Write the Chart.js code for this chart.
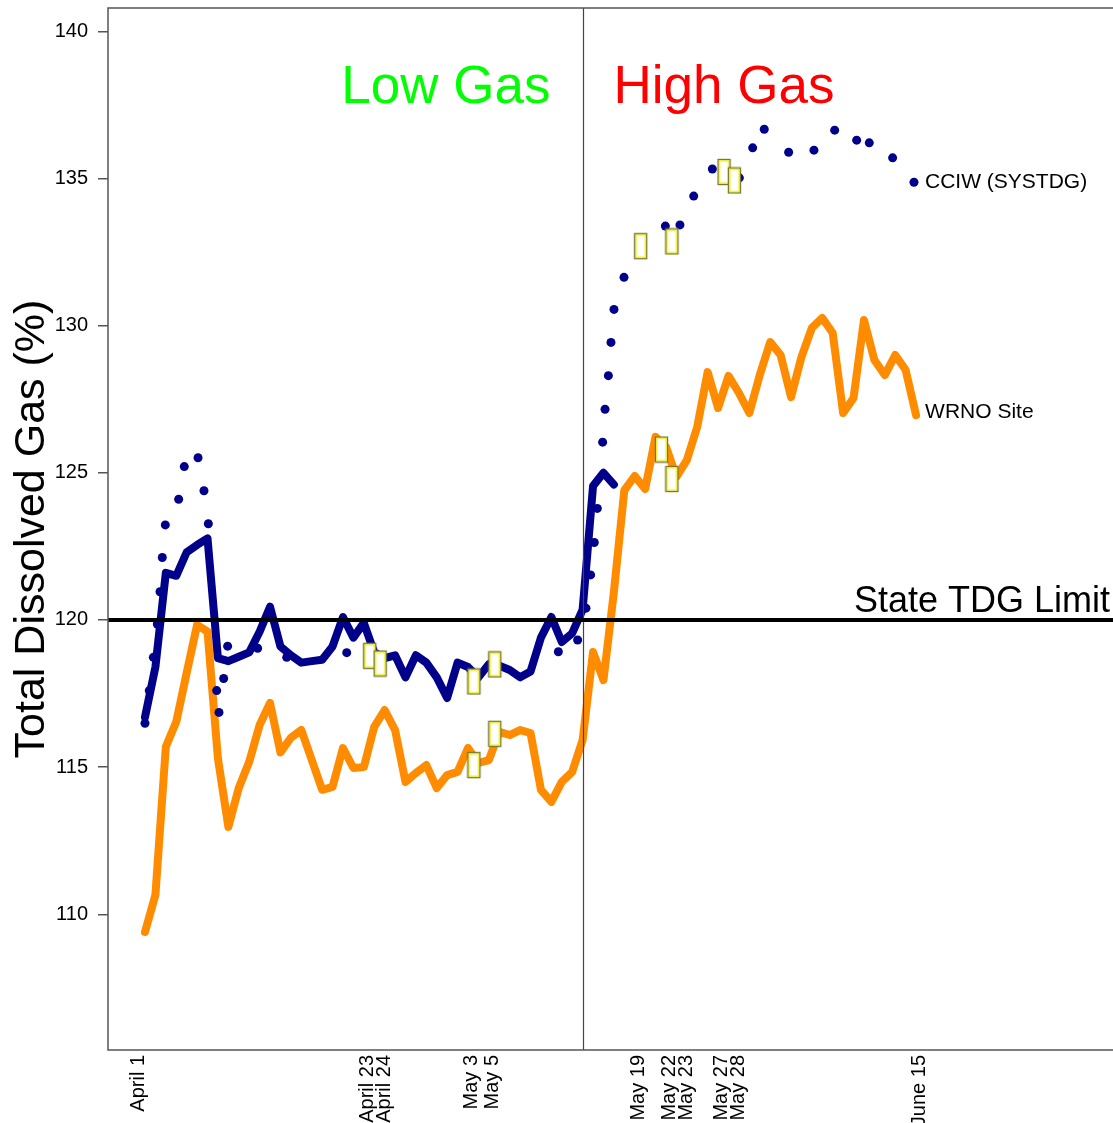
<!DOCTYPE html>
<html>
<head>
<meta charset="utf-8">
<title>Total Dissolved Gas</title>
<script src="https://cdn.jsdelivr.net/npm/chart.js@4/dist/chart.umd.min.js"></script>
<style>
  html, body { margin: 0; padding: 0; background: #ffffff; }
  canvas { display: block; }
</style>
</head>
<body>
<canvas id="tdg" width="1113" height="1123"></canvas>
<script>
// x values are days since April 1
const tickDays   = [0, 22, 23, 32, 34, 48, 51, 52, 56, 57, 75];
const tickLabels = ["April 1", "April 23", "April 24", "May 3", "May 5",
                    "May 19", "May 22", "May 23", "May 27", "May 28", "June 15"];
const yTickValues = [110, 115, 120, 125, 130, 135, 140];

// WRNO site, daily TDG (%), April 1 - June 14
const wrnoValues = [
  109.40, 110.66, 115.69, 116.54, 118.20, 119.83, 119.60, 115.30, 112.97, 114.29,
  115.18, 116.43, 117.18, 115.50, 116.00, 116.26, 115.25, 114.23, 114.33, 115.65,
  114.97, 115.00, 116.37, 116.94, 116.26, 114.50, 114.80, 115.07, 114.29, 114.73,
  114.84, 115.65, 115.14, 115.24, 116.20, 116.09, 116.26, 116.16, 114.23, 113.82,
  114.50, 114.84, 115.92, 118.91, 117.96, 120.95, 124.40, 124.89, 124.45, 126.22,
  125.88, 124.86, 125.43, 126.56, 128.42, 127.20, 128.29, 127.71, 127.03, 128.32,
  129.44, 129.00, 127.57, 128.93, 129.92, 130.26, 129.75, 127.03, 127.54, 130.19,
  128.83, 128.32, 129.00, 128.49, 126.96
];

// CCIW, daily TDG (%), April 1 - May 16
const cciwValues = [
  116.70, 118.40, 121.60, 121.50, 122.30, 122.55, 122.77, 118.70, 118.60, 118.75,
  118.90, 119.60, 120.45, 119.10, 118.80, 118.55, 118.60, 118.65, 119.10, 120.10,
  119.40, 119.90, 118.90, 118.70, 118.80, 118.05, 118.80, 118.55, 118.05, 117.35,
  118.55, 118.40, 118.05, 118.50, 118.45, 118.30, 118.05, 118.25, 119.40, 120.10,
  119.25, 119.55, 120.35, 124.55, 125.00, 124.60
];

// CCIW (SYSTDG) readings
const systdgDays = [
  0.00, 0.41, 0.80, 1.18, 1.44, 1.66, 1.95, 3.23, 3.77, 5.09,
  5.66, 6.08, 6.88, 7.10, 7.55, 7.93, 10.81, 13.60, 19.36, 39.67,
  41.52, 42.32, 42.77, 43.12, 43.41, 43.92, 44.15, 44.47, 44.72, 45.01,
  45.97, 47.57, 49.94, 51.34, 52.66, 54.45, 57.04, 58.32, 59.43, 61.77,
  64.20, 66.19, 68.30, 69.51, 71.75, 73.80
];
const systdgValues = [
  116.49, 117.60, 118.73, 119.86, 120.96, 122.12, 123.23, 124.10, 125.21, 125.51,
  124.39, 123.27, 117.60, 116.86, 118.01, 119.11, 119.04, 118.73, 118.89, 118.92,
  119.32, 120.40, 121.53, 122.63, 123.79, 126.04, 127.16, 128.30, 129.43, 130.55,
  131.64, 132.61, 133.38, 133.42, 134.40, 135.32, 135.02, 136.04, 136.67, 135.89,
  135.96, 136.64, 136.30, 136.21, 135.70, 134.87
];

// sampling days
const cciwSampleDays   = [22, 23, 32, 34, 48, 51, 56, 57];
const cciwSampleValues = [118.78, 118.52, 117.91, 118.49, 132.70, 132.86, 135.22, 134.93];
const wrnoSampleDays   = [32, 34, 50, 51];
const wrnoSampleValues = [115.07, 116.13, 125.79, 124.79];

const stateLimit = 120;
const gasSwitchDay = 42;   // May 13

const FONT = '"Liberation Sans", Arial, Helvetica, sans-serif';
const NAVY = '#00008B';
const ORANGE = '#FF8C00';

const pairs = (xs, ys) => ys.map((y, i) => ({ x: xs[i], y }));
const daily = ys => ys.map((y, i) => ({ x: i, y }));

// sample marker: a small framed glyph box, sitting a little left of its anchor
function sampleGlyph() {
  const c = document.createElement('canvas');
  c.width = 24; c.height = 28;
  const g = c.getContext('2d');
  const x0 = 1.5, y0 = 1.5, w = 12, h = 25;
  g.fillStyle = '#ffffff';
  g.fillRect(x0, y0, w, h);
  g.strokeStyle = '#77773a';
  g.lineWidth = 1.4;
  g.strokeRect(x0, y0, w, h);
  g.strokeStyle = '#f0f000';
  g.lineWidth = 1.2;
  g.strokeRect(x0 + 1.4, y0 + 1.4, w - 2.8, h - 2.8);
  return c;
}
const glyph = sampleGlyph();

// keep the plot area exactly where the layout puts it
function noEdgePadding(s) {
  s.paddingTop = 0; s.paddingBottom = 0; s.paddingLeft = 0; s.paddingRight = 0;
}

const overlay = {
  id: 'overlay',
  afterDatasetsDraw(chart) {
    const { ctx, chartArea: a, scales: { x, y } } = chart;
    ctx.save();

    // low / high gas divider
    const xs = Math.round(x.getPixelForValue(gasSwitchDay)) + 0.5;
    ctx.strokeStyle = '#444444';
    ctx.lineWidth = 1.2;
    ctx.beginPath();
    ctx.moveTo(xs, a.top);
    ctx.lineTo(xs, a.bottom);
    ctx.stroke();

    // state limit
    const yl = y.getPixelForValue(stateLimit);
    ctx.strokeStyle = '#000000';
    ctx.lineWidth = 4;
    ctx.beginPath();
    ctx.moveTo(a.left, yl);
    ctx.lineTo(a.right, yl);
    ctx.stroke();

    // plot frame
    ctx.strokeStyle = '#555555';
    ctx.lineWidth = 1.5;
    ctx.strokeRect(a.left, a.top, a.right - a.left + 20, a.bottom - a.top);

    // period titles
    ctx.font = '53px ' + FONT;
    ctx.textBaseline = 'alphabetic';
    ctx.fillStyle = '#00FF00';
    ctx.textAlign = 'right';
    ctx.fillText('Low Gas', xs - 33, a.top + 95);
    ctx.fillStyle = '#FF0000';
    ctx.textAlign = 'left';
    ctx.fillText('High Gas', xs + 30, a.top + 95);

    // limit label
    ctx.font = '36px ' + FONT;
    ctx.fillStyle = '#000000';
    ctx.textAlign = 'right';
    ctx.fillText('State TDG Limit', a.right - 3, yl - 8);

    // series labels at the last reading
    ctx.font = '21px ' + FONT;
    ctx.textAlign = 'left';
    ctx.textBaseline = 'middle';
    const lastS = systdgDays.length - 1;
    ctx.fillText('CCIW (SYSTDG)', x.getPixelForValue(systdgDays[lastS]) + 11,
                 y.getPixelForValue(systdgValues[lastS]));
    const lastW = wrnoValues.length - 1;
    ctx.fillText('WRNO Site', x.getPixelForValue(lastW) + 9,
                 y.getPixelForValue(wrnoValues[lastW]) - 3);

    // date labels, vertical, nudged apart where they would collide
    ctx.font = '20px ' + FONT;
    ctx.textAlign = 'right';
    ctx.textBaseline = 'middle';
    let prev = -Infinity;
    tickDays.forEach((d, i) => {
      let px = x.getPixelForValue(d) - 7;
      if (px - prev < 17) px = prev + 17;
      prev = px;
      ctx.save();
      ctx.translate(px, a.bottom + 5);
      ctx.rotate(-Math.PI / 2);
      ctx.fillText(tickLabels[i], 0, 0);
      ctx.restore();
    });

    ctx.restore();
  }
};

Chart.defaults.font.family = FONT;
Chart.defaults.color = '#000000';

new Chart(document.getElementById('tdg'), {
  type: 'line',
  data: {
    datasets: [
      {
        label: 'CCIW samples',
        type: 'scatter',
        data: pairs(cciwSampleDays, cciwSampleValues),
        pointStyle: glyph,
        pointRadius: 12,
        order: 1
      },
      {
        label: 'WRNO samples',
        type: 'scatter',
        data: pairs(wrnoSampleDays, wrnoSampleValues),
        pointStyle: glyph,
        pointRadius: 12,
        order: 1
      },
      {
        label: 'CCIW (SYSTDG)',
        type: 'scatter',
        data: pairs(systdgDays, systdgValues),
        backgroundColor: NAVY,
        borderColor: NAVY,
        borderWidth: 0,
        pointRadius: 4.5,
        order: 2
      },
      {
        label: 'CCIW',
        data: daily(cciwValues),
        borderColor: NAVY,
        borderWidth: 8,
        borderJoinStyle: 'round',
        borderCapStyle: 'round',
        pointRadius: 0,
        tension: 0,
        order: 3
      },
      {
        label: 'WRNO Site',
        data: daily(wrnoValues),
        borderColor: ORANGE,
        borderWidth: 8,
        borderJoinStyle: 'round',
        borderCapStyle: 'round',
        pointRadius: 0,
        tension: 0,
        order: 4
      }
    ]
  },
  options: {
    responsive: false,
    animation: false,
    events: [],
    layout: { autoPadding: false, padding: { top: 8, left: 0, right: 0, bottom: 0 } },
    plugins: { legend: { display: false }, tooltip: { enabled: false } },
    scales: {
      x: {
        type: 'linear',
        min: -3.55,
        max: 92.9,
        grid: { display: false },
        border: { display: false },
        ticks: { display: false },
        afterFit: s => { s.height = 73; noEdgePadding(s); }
      },
      y: {
        type: 'linear',
        min: 105.39,
        max: 140.79,
        afterBuildTicks: s => { s.ticks = yTickValues.map(v => ({ value: v })); },
        ticks: {
          font: { size: 20 },
          color: '#000000',
          padding: 10,
          callback: v => String(v)
        },
        grid: {
          drawOnChartArea: false,
          drawTicks: true,
          tickLength: 10,
          color: '#555555',
          lineWidth: 1.5
        },
        border: { display: false },
        title: {
          display: true,
          text: 'Total Dissolved Gas (%)',
          font: { size: 43 },
          color: '#000000',
          padding: { top: 6, bottom: 0 }
        },
        afterFit: s => { s.width = 108; noEdgePadding(s); }
      }
    }
  },
  plugins: [overlay]
});
</script>
</body>
</html>
